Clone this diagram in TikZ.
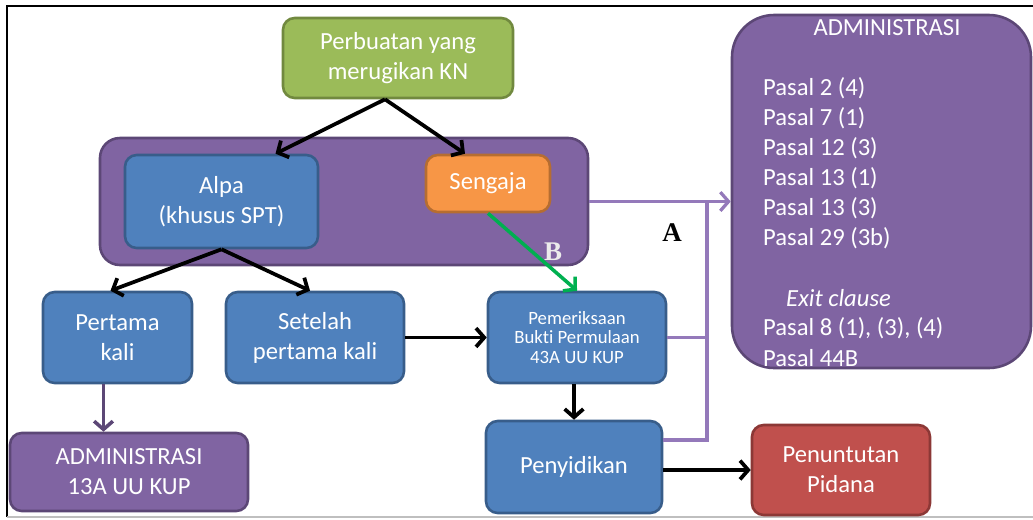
\documentclass[tikz,border=0pt]{standalone}
\usepackage{fontspec}
\setmainfont{Carlito}[Ligatures=NoCommon]
\newfontfamily\letterfont{Liberation Serif}
\usetikzlibrary{positioning, calc, arrows.meta}

\definecolor{boxgreen}{HTML}{9BBB59}
\definecolor{boxgreenline}{HTML}{71893F}
\definecolor{boxblue}{HTML}{4F81BD}
\definecolor{boxblueline}{HTML}{385D8A}
\definecolor{boxorange}{HTML}{F79646}
\definecolor{boxorangeline}{HTML}{B66D31}
\definecolor{boxpurple}{HTML}{8064A2}
\definecolor{boxpurpleline}{HTML}{5C4776}
\definecolor{boxred}{HTML}{C0504D}
\definecolor{boxredline}{HTML}{8C3836}
\definecolor{linkpurple}{HTML}{9479BA}
\definecolor{linkgreen}{HTML}{00B050}

\newcommand\mainsize{\fontsize{21}{25.6}\selectfont}
\newcommand\notesize{\fontsize{16}{17}\selectfont}

\tikzset{
    box/.style={rectangle, rounded corners=10pt, line width=2.2pt, text=white, align=center, font=\mainsize},
    greenbox/.style={box, fill=boxgreen, draw=boxgreenline},
    bluebox/.style={box, fill=boxblue, draw=boxblueline},
    orangebox/.style={box, fill=boxorange, draw=boxorangeline},
    purplebox/.style={box, fill=boxpurple, draw=boxpurpleline},
    redbox/.style={box, fill=boxred, draw=boxredline},
    listtext/.style={text=white, font=\mainsize, inner sep=0pt},
    letterlabel/.style={font=\letterfont\bfseries\fontsize{23}{23}\selectfont, inner sep=0pt},
    barb/.style={-{Straight Barb[length=7pt,width=16pt]}},
    blackarrow/.style={barb, line width=3.2pt, black},
    greenarrow/.style={barb, line width=3pt, linkgreen},
    purplearrow/.style={barb, line width=2.8pt, linkpurple},
    purpleline/.style={line width=2.8pt, linkpurple},
    darkpurplearrow/.style={barb, line width=3pt, boxpurpleline}
}

\begin{document}
\begin{tikzpicture}[x=0.03cm, y=-0.03cm]
    \useasboundingbox (0,0) rectangle (1033,519);

    % frame
    \draw[line width=1.2pt] (7,517) -- (7,6) -- (1033,6);
    \draw[gray!50, line width=1pt] (7,517) -- (1033,517);

    % top box
    \node[greenbox, minimum width=6.9cm, minimum height=2.4cm] (kerugian) at (398,58) {Perbuatan yang\\merugikan KN};

    % Alpa / Sengaja group
    \node[purplebox, rounded corners=17pt, minimum width=14.64cm, minimum height=3.81cm] (unsur) at (344,201.5) {};
    \node[bluebox, minimum width=5.79cm, minimum height=2.79cm] (alpa) at (221.5,201.5) {Alpa\\(khusus SPT)};
    \node[orangebox, minimum width=3.72cm, minimum height=1.71cm] (sengaja) at (488,183.5) {Sengaja};
    \node[letterlabel, text=gray!15] (labelB) at (553,252) {B};

    % middle row
    \node[bluebox, minimum width=4.47cm, minimum height=2.73cm] (pertama) at (117.5,337.5) {Pertama\\kali};
    \node[bluebox, minimum width=5.34cm, minimum height=2.73cm] (setelah) at (315,337.5) {Setelah\\pertama kali};
    \node[bluebox, minimum width=5.34cm, minimum height=2.73cm, font=\notesize] (periksa) at (577,337.5) {Pemeriksaan\\Bukti Permulaan\\43A UU KUP};

    % bottom row
    \node[purplebox, minimum width=7.14cm, minimum height=2.34cm] (adm13) at (129,472) {ADMINISTRASI\\13A UU KUP};
    \node[bluebox, minimum width=5.28cm, minimum height=2.76cm] (sidik) at (574,467) {Penyidikan};
    \node[redbox, minimum width=5.34cm, minimum height=2.7cm] (tuntut) at (841,470) {Penuntutan\\Pidana};

    % administrasi list
    \node[purplebox, rounded corners=36pt, minimum width=8.97cm, minimum height=10.59cm] (admbig) at (881.5,191.5) {};
    \node[listtext] (admjudul) at (887,28) {ADMINISTRASI};
    \node[listtext, anchor=west] (pasal1) at (763,88) {Pasal 2 (4)};
    \node[listtext, anchor=west] (pasal2) at (763,118) {Pasal 7 (1)};
    \node[listtext, anchor=west] (pasal3) at (763,148) {Pasal 12 (3)};
    \node[listtext, anchor=west] (pasal4) at (763,178) {Pasal 13 (1)};
    \node[listtext, anchor=west] (pasal5) at (763,208) {Pasal 13 (3)};
    \node[listtext, anchor=west] (pasal6) at (763,238) {Pasal 29 (3b)};
    \node[listtext, anchor=west, font=\mainsize\itshape] (exit) at (786,298) {Exit clause};
    \node[listtext, anchor=west] (pasal7) at (763,328) {Pasal 8 (1), (3), (4)};
    \node[listtext, anchor=west] (pasal8) at (763,358) {Pasal 44B};

    \node[letterlabel, text=black] (labelA) at (672,233) {A};

    % black arrows
    \draw[blackarrow] ($(kerugian.south)+(-13,0)$) -- ($(alpa.north)+(54,0)$);
    \draw[blackarrow] ($(kerugian.south)+(-13,0)$) -- ($(sengaja.north)+(-23,0)$);
    \draw[blackarrow] (alpa.south) -- ($(pertama.north)+(-7,0)$);
    \draw[blackarrow] (alpa.south) -- ($(setelah.north)+(-5,0)$);
    \draw[blackarrow] (setelah.east) -- (periksa.west);
    \draw[blackarrow] (periksa.south -| sidik.north) -- (sidik.north);
    \draw[blackarrow] (sidik.east |- tuntut.west) -- (tuntut.west);

    % purple and green arrows
    \coordinate (turun) at ($(pertama.south)+(-14,0)$);
    \draw[darkpurplearrow] (turun) -- (turun |- adm13.north);
    \draw[greenarrow] (sengaja.south) -- (periksa.north);
    \coordinate (rel) at (707,201.5);
    \coordinate (relbawah) at (707,440);
    \draw[purplearrow] (unsur.east) -- (unsur.east -| admbig.west);
    \draw[purpleline] (periksa.east) -- (periksa.east -| rel);
    \draw[purpleline] (sidik.east |- relbawah) -- (relbawah) -- (rel);
\end{tikzpicture}
\end{document}
